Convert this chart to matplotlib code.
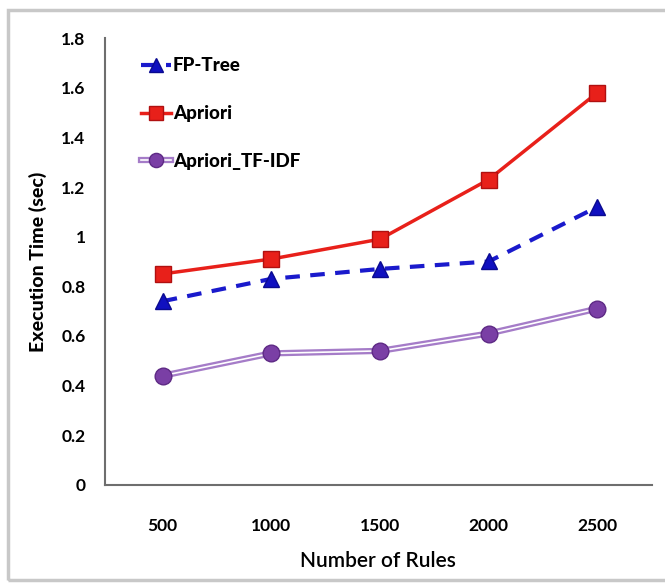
import matplotlib.pyplot as plt
import matplotlib.patheffects as pe
from matplotlib.patches import Rectangle

# Data
rules = ['500', '1000', '1500', '2000', '2500']
fp_tree = [0.74, 0.83, 0.87, 0.90, 1.12]
apriori = [0.85, 0.91, 0.99, 1.23, 1.58]
apriori_tfidf = [0.44, 0.53, 0.54, 0.61, 0.71]

plt.rcParams['font.family'] = ['Lato', 'DejaVu Sans']

fig = plt.figure(figsize=(6.65, 5.85), dpi=100)
ax = fig.add_axes([0.158, 0.171, 0.822, 0.764])

# outer frame around the chart
fig.patches.append(Rectangle((0.012, 0.008), 0.99, 0.975, transform=fig.transFigure,
                             fill=False, edgecolor='#c8c8c8', linewidth=2.5))

x = range(len(rules))
fp_line, = ax.plot(x, fp_tree, color='#1a1acc', linestyle=(0, (3.5, 2.5)), linewidth=3,
                   marker='^', markersize=12, markerfacecolor='#1010c0',
                   markeredgecolor='#0a0a90')
ap_line, = ax.plot(x, apriori, color='#e8201a', linewidth=2.5,
                   marker='s', markersize=12, markerfacecolor='#e8201a',
                   markeredgecolor='#b01010')
# double line look: light purple stroke with white centre, markers drawn on top
tf_line, = ax.plot(x, apriori_tfidf, color='white', linewidth=1.2,
                   path_effects=[pe.Stroke(linewidth=4.5, foreground='#a57cc8'), pe.Normal()])
tf_mark, = ax.plot(x, apriori_tfidf, linestyle='none', marker='o', markersize=12,
                   markerfacecolor='#7a3fa5', markeredgecolor='#5e2a85')

ax.set_xlim(-0.53, 4.5)
ax.set_ylim(0, 1.8)
ax.set_xticks(list(x))
ax.set_xticklabels(rules)
ax.set_yticks([0, 0.2, 0.4, 0.6, 0.8, 1.0, 1.2, 1.4, 1.6, 1.8])
ax.set_yticklabels(['0', '0.2', '0.4', '0.6', '0.8', '1', '1.2', '1.4', '1.6', '1.8'])
ax.tick_params(length=0, labelsize=12.5)
ax.tick_params(axis='y', pad=14)
ax.tick_params(axis='x', pad=24)
for lab in ax.get_xticklabels() + ax.get_yticklabels():
    lab.set_fontweight('bold')

for side in ['top', 'right']:
    ax.spines[side].set_visible(False)
for side in ['left', 'bottom']:
    ax.spines[side].set_color('#6e6e6e')
    ax.spines[side].set_linewidth(1.5)

ax.set_ylabel('Execution Time (sec)', fontsize=14, fontweight='black', labelpad=10)
ax.set_xlabel('Number of Rules', fontsize=15, fontweight='semibold', labelpad=12)

ax.legend([fp_line, ap_line, (tf_line, tf_mark)], ['FP-Tree', 'Apriori', 'Apriori_TF-IDF'],
          loc='upper left', bbox_to_anchor=(0.035, 0.995), frameon=False,
          prop={'weight': 'black', 'size': 13.5}, labelspacing=1.65,
          handlelength=1.6, handletextpad=0.1, markerscale=0.85)

fig.savefig('out.png', dpi=100)
